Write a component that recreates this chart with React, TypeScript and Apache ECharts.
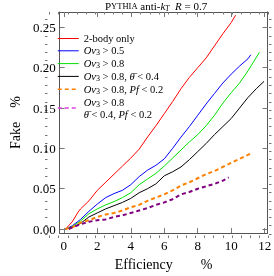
import React, { useEffect, useRef } from "react";
import * as echarts from "echarts";

const FONT = "'Liberation Serif', 'DejaVu Serif', serif";

const xTicks = [0, 2, 4, 6, 8, 10, 12];
const yTicks = [0, 0.05, 0.1, 0.15, 0.2, 0.25];
const X_MIN = -0.25, X_MAX = 12.17, Y_MIN = -0.005, Y_MAX = 0.269;

const seriesNames = ["2-body only", "Ov3 > 0.5", "Ov3 > 0.8", "Ov3 > 0.8, theta < 0.4", "Ov3 > 0.8, Pf < 0.2", "Ov3 > 0.8, theta < 0.4, Pf < 0.2"];

const red = [[0.1,0],[0.5,0.009],[0.85,0.021],[1.0,0.025],[1.5,0.035],[2.0,0.048],[2.5,0.058],[3.0,0.068],[3.5,0.078],[4.0,0.088],[4.5,0.099],[5.0,0.114],[5.5,0.128],[6.0,0.143],[6.5,0.158],[7.0,0.174],[7.5,0.188],[8.0,0.200],[8.5,0.212],[9.0,0.227],[9.5,0.242],[10.0,0.256],[10.26,0.265]];
const blue = [[0.1,0],[0.5,0.004],[1.0,0.012],[1.5,0.022],[2.0,0.031],[2.5,0.039],[3.0,0.044],[3.5,0.048],[4.0,0.055],[4.5,0.065],[5.0,0.073],[5.5,0.079],[6.0,0.087],[6.5,0.100],[7.0,0.114],[7.5,0.127],[8.0,0.141],[8.5,0.155],[9.0,0.168],[9.5,0.181],[10.0,0.192],[10.5,0.202],[11.0,0.211],[11.17,0.216]];
const green = [[0.1,0],[0.5,0.003],[1.0,0.010],[1.5,0.019],[2.0,0.025],[2.5,0.030],[3.0,0.034],[3.5,0.039],[4.0,0.045],[4.5,0.055],[5.0,0.062],[5.5,0.069],[6.0,0.078],[6.5,0.088],[7.0,0.098],[7.5,0.108],[8.0,0.117],[8.5,0.128],[9.0,0.141],[9.5,0.156],[10.0,0.169],[10.5,0.181],[11.0,0.196],[11.3,0.206],[11.68,0.219]];
const black = [[0.1,0],[0.5,0.002],[1.0,0.007],[1.5,0.015],[2.0,0.020],[2.5,0.025],[3.0,0.029],[3.5,0.033],[4.0,0.038],[4.5,0.045],[5.0,0.050],[5.5,0.056],[6.0,0.066],[6.5,0.071],[7.0,0.077],[7.5,0.086],[8.0,0.096],[8.5,0.106],[9.0,0.117],[9.5,0.127],[10.0,0.137],[10.5,0.150],[11.0,0.163],[11.5,0.174],[11.96,0.183]];
const orange = [[0.1,0],[0.5,0.002],[1.0,0.008],[1.5,0.011],[2.0,0.015],[2.5,0.018],[3.0,0.020],[3.5,0.023],[4.0,0.027],[4.5,0.030],[5.0,0.035],[5.5,0.039],[6.0,0.043],[6.5,0.048],[7.0,0.054],[7.5,0.058],[8.0,0.063],[8.5,0.068],[9.0,0.072],[9.5,0.077],[10.0,0.082],[10.5,0.087],[11.2,0.094]];
const purple = [[0.3,0],[0.5,0.002],[1.0,0.006],[1.5,0.009],[2.0,0.011],[2.5,0.012],[3.0,0.015],[3.5,0.017],[4.0,0.020],[4.5,0.023],[5.0,0.026],[5.5,0.030],[6.0,0.033],[6.5,0.037],[7.0,0.043],[7.5,0.046],[8.0,0.050],[8.5,0.053],[9.0,0.056],[9.5,0.060],[9.85,0.064]];

const legendLabels: Record<string, string> = {
  "2-body only": "{n|2-body only}",
  "Ov3 > 0.5": "{i|Ov}{s|3}{n| > 0.5}",
  "Ov3 > 0.8": "{i|Ov}{s|3}{n| > 0.8}",
  "Ov3 > 0.8, theta < 0.4": "{i|Ov}{s|3}{n| > 0.8, }{i|θ\u0304}{n| < 0.4}",
  "Ov3 > 0.8, Pf < 0.2": "{i|Ov}{s|3}{n| > 0.8, }{i|Pf}{n| < 0.2}",
  "Ov3 > 0.8, theta < 0.4, Pf < 0.2": "{i|Ov}{s|3}{n| > 0.8}\n{i|θ\u0304}{n| < 0.4, }{i|Pf}{n| < 0.2}",
};

function minorValues(lo: number, hi: number, step: number) {
  const out: number[] = [];
  for (let v = lo; v <= hi + 1e-9; v += step) out.push(Math.round(v * 1000) / 1000);
  return out;
}

export default function App() {
  const ref = useRef<HTMLDivElement>(null);
  useEffect(() => {
    if (!ref.current) return;
    const chart = echarts.init(ref.current, null, { renderer: "svg" });
    const lineCol = "#555";
    const tickCol = "#777";
    const xMinor = minorValues(0, 12, 0.5);
    const yMinor = minorValues(0, 0.26, 0.01);
    const grid = { left: 45, right: 2.5, top: 12, bottom: 38 };
    const baseX = (gridIndex: number, position: string, ticks: number[], len: number, showLine: boolean, labels: boolean) => ({
      type: "value", gridIndex, position, min: X_MIN, max: X_MAX,
      axisLine: { show: showLine, onZero: false, lineStyle: { color: lineCol, width: 1 } },
      axisTick: { show: true, inside: true, length: len, customValues: ticks, lineStyle: { color: tickCol, width: 1 } },
      axisLabel: labels ? { show: true, customValues: xTicks, margin: 6, fontFamily: FONT, fontSize: 13, color: "#000" } : { show: false },
      splitLine: { show: false },
    });
    const baseY = (gridIndex: number, position: string, ticks: number[], len: number, showLine: boolean, labels: boolean) => ({
      type: "value", gridIndex, position, min: Y_MIN, max: Y_MAX,
      axisLine: { show: showLine, onZero: false, lineStyle: { color: lineCol, width: 1 } },
      axisTick: { show: true, inside: true, length: len, customValues: ticks, lineStyle: { color: tickCol, width: 1 } },
      axisLabel: labels ? { show: true, customValues: yTicks, margin: 4, fontFamily: FONT, fontSize: 13, color: "#000", formatter: (v: number) => v.toFixed(2) } : { show: false },
      splitLine: { show: false },
    });
    const xMain: any = baseX(0, "bottom", xTicks, 5, true, true);
    xMain.name = "Efficiency        %";
    xMain.nameLocation = "middle";
    xMain.nameGap = 23;
    xMain.nameTextStyle = { fontFamily: FONT, fontSize: 14, color: "#000" };
    const yMain: any = baseY(0, "left", yTicks, 5, true, true);
    yMain.name = "Fake    %";
    yMain.nameLocation = "middle";
    yMain.nameGap = 30;
    yMain.nameTextStyle = { fontFamily: FONT, fontSize: 14, color: "#000" };

    const mk = (name: string, data: number[][], color: string, width: number, dashed: boolean) => ({
      type: "line", name, data, xAxisIndex: 0, yAxisIndex: 0, symbol: "none", showSymbol: false,
      lineStyle: { color, width, type: dashed ? [4, 3] : "solid" }, itemStyle: { color },
    });

    const option: any = {
      animation: false,
      title: {
        text: "{a|P}{b|YTHIA}{a| anti-}{i|k}{s|T}{a|  }{i|R}{a| = 0.7}",
        left: 100, top: -6,
        textStyle: {
          fontWeight: "normal",
          rich: {
            a: { fontFamily: FONT, fontSize: 11, fontWeight: "normal", lineHeight: 13, color: "#000" },
            b: { fontFamily: FONT, fontSize: 8.5, fontWeight: "normal", lineHeight: 13, color: "#000" },
            i: { fontFamily: FONT, fontSize: 11, fontWeight: "normal", fontStyle: "italic", lineHeight: 13, color: "#000" },
            s: { fontFamily: FONT, fontSize: 7.5, fontWeight: "normal", fontStyle: "italic", lineHeight: 7, verticalAlign: "bottom", color: "#000" },
          },
        },
      },
      grid: [grid, grid],
      xAxis: [xMain, baseX(0, "top", xTicks, 5, true, false), baseX(1, "bottom", xMinor, 2.5, false, false), baseX(1, "top", xMinor, 2.5, false, false)],
      yAxis: [yMain, baseY(0, "right", yTicks, 5, true, false), baseY(1, "left", yMinor, 2.5, false, false), baseY(1, "right", yMinor, 2.5, false, false)],
      legend: {
        orient: "vertical", left: 52, top: 28, itemWidth: 21, itemHeight: 10, itemGap: 1.3,
        selectedMode: false,
        itemStyle: { opacity: 0 },
        data: [
          { name: seriesNames[0], lineStyle: { width: 1 } },
          { name: seriesNames[1], lineStyle: { width: 1 } },
          { name: seriesNames[2], lineStyle: { width: 1 } },
          { name: seriesNames[3], lineStyle: { width: 1 } },
          { name: seriesNames[4], lineStyle: { width: 1.5 } },
          { name: seriesNames[5], lineStyle: { color: "#e040e0", width: 1.5 }, itemStyle: { color: "#e040e0", opacity: 0 } },
        ],
        formatter: (name: string) => legendLabels[name] || name,
        textStyle: {
          rich: {
            n: { fontFamily: FONT, fontSize: 10.5, lineHeight: 12, color: "#000" },
            i: { fontFamily: FONT, fontSize: 10.5, fontStyle: "italic", lineHeight: 12, color: "#000" },
            s: { fontFamily: FONT, fontSize: 8, lineHeight: 8, verticalAlign: "bottom", color: "#000" },
          },
        },
      },
      series: [
        mk(seriesNames[0], red, "#ff0000", 1, false),
        mk(seriesNames[1], blue, "#0000ff", 1, false),
        mk(seriesNames[2], green, "#00e000", 1, false),
        mk(seriesNames[3], black, "#000000", 1, false),
        mk(seriesNames[4], orange, "#ff8000", 2, true),
        mk(seriesNames[5], purple, "#800080", 2, true),
      ],
    };
    chart.setOption(option);
    return () => chart.dispose();
  }, []);
  return <div ref={ref} style={{ position: "fixed", left: 0, top: 0, width: 274, height: 276 }} />;
}
